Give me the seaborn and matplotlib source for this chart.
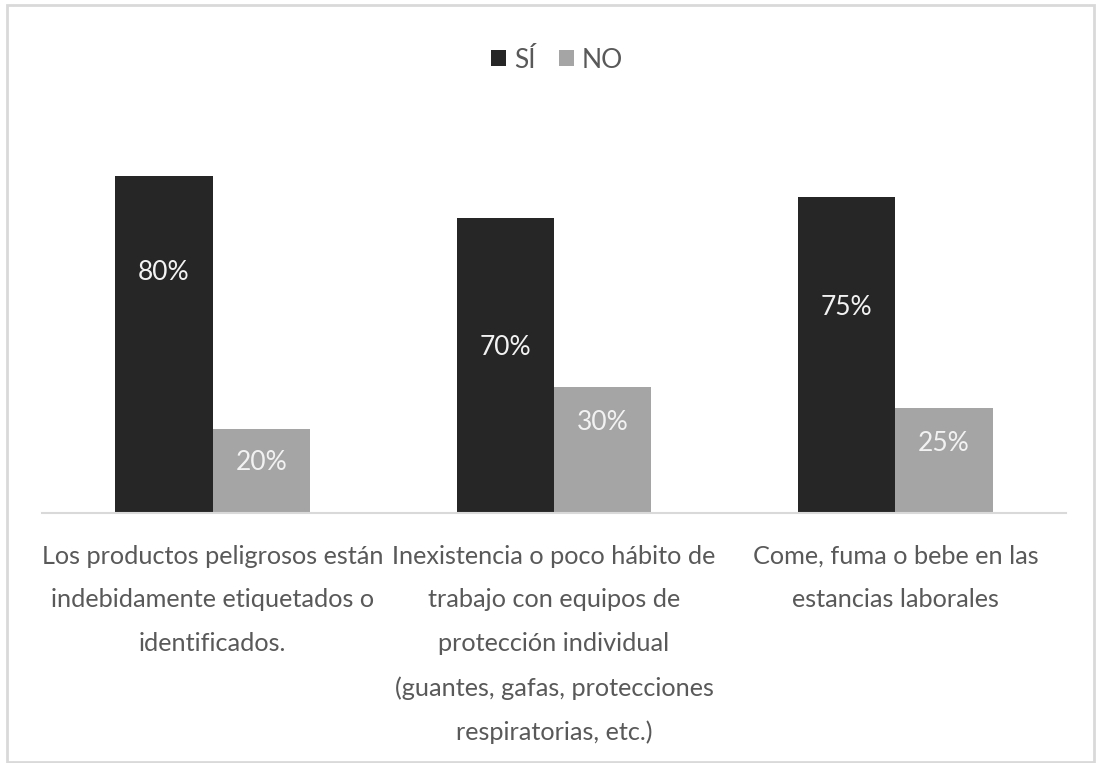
import matplotlib
matplotlib.use("Agg")
import matplotlib.pyplot as plt
from matplotlib.patches import Rectangle
import seaborn as sns
import pandas as pd

# Survey items (x-axis categories) and answer shares
categories = [
    "Los productos peligrosos están\nindebidamente etiquetados o\nidentificados.",
    "Inexistencia o poco hábito de\ntrabajo con equipos de\nprotección individual\n(guantes, gafas, protecciones\nrespiratorias, etc.)",
    "Come, fuma o bebe en las\nestancias laborales",
]
series = ["SÍ", "NO"]
si_values = [0.80, 0.70, 0.75]
no_values = [0.20, 0.30, 0.25]

# Vertical placement of the value labels, as a fraction of each bar's height
si_label_frac = [0.715, 0.56, 0.652]
no_label_frac = [0.595, 0.713, 0.664]

colors = {"SÍ": "#262626", "NO": "#a5a5a5"}
text_color = "#595959"

df = pd.DataFrame({
    "categoria": categories * 2,
    "respuesta": [series[0]] * 3 + [series[1]] * 3,
    "valor": si_values + no_values,
})

sns.set_theme(style="white")
plt.rcParams["font.family"] = ["Lato", "DejaVu Sans"]

fig = plt.figure(figsize=(10.96, 7.63), dpi=100)
ax = fig.add_axes([42 / 1096, 1 - 513 / 763, 1024 / 1096, 379 / 763])

sns.barplot(
    data=df, x="categoria", y="valor", hue="respuesta",
    hue_order=series, order=categories, palette=colors,
    width=0.57, gap=0, saturation=1, ax=ax, legend=True,
    edgecolor="none", linewidth=0,
)

ax.set_xlim(-0.5, 2.5)
ax.set_ylim(0, 0.9)
ax.set_xlabel("")
ax.set_ylabel("")
ax.set_yticks([])
for side in ["top", "left", "right"]:
    ax.spines[side].set_visible(False)
ax.spines["bottom"].set_color("#d9d9d9")
ax.spines["bottom"].set_linewidth(1.5)
ax.tick_params(axis="x", length=0, pad=23, labelsize=18.2, labelcolor=text_color)
for lbl in ax.get_xticklabels():
    lbl.set_linespacing(2.08)
    lbl.set_verticalalignment("top")

# Value labels inside the bars
for container, vals, fracs in zip(ax.containers, [si_values, no_values], [si_label_frac, no_label_frac]):
    for patch, v, f in zip(container.patches, vals, fracs):
        x = patch.get_x() + patch.get_width() / 2
        ax.text(x, patch.get_height() * f, f"{round(v * 100)}%",
                ha="center", va="center", color="#f2f2f2", fontsize=19)

# Legend at the top centre
handles, labels = ax.get_legend_handles_labels()
ax.legend(handles, labels, loc="center", bbox_to_anchor=(557 / 1096, 1 - 60 / 763),
          bbox_transform=fig.transFigure, ncol=2, frameon=False,
          fontsize=19, labelcolor=text_color, handlelength=0.55, handleheight=0.55,
          handletextpad=0.3, columnspacing=0.9)

# Light frame around the whole chart
fig.patches.append(Rectangle((7 / 1096, 1 / 763), 1087 / 1096, 757 / 763,
                             transform=fig.transFigure, fill=False,
                             edgecolor="#d9d9d9", linewidth=2))

fig.savefig("out.png", dpi=100)
